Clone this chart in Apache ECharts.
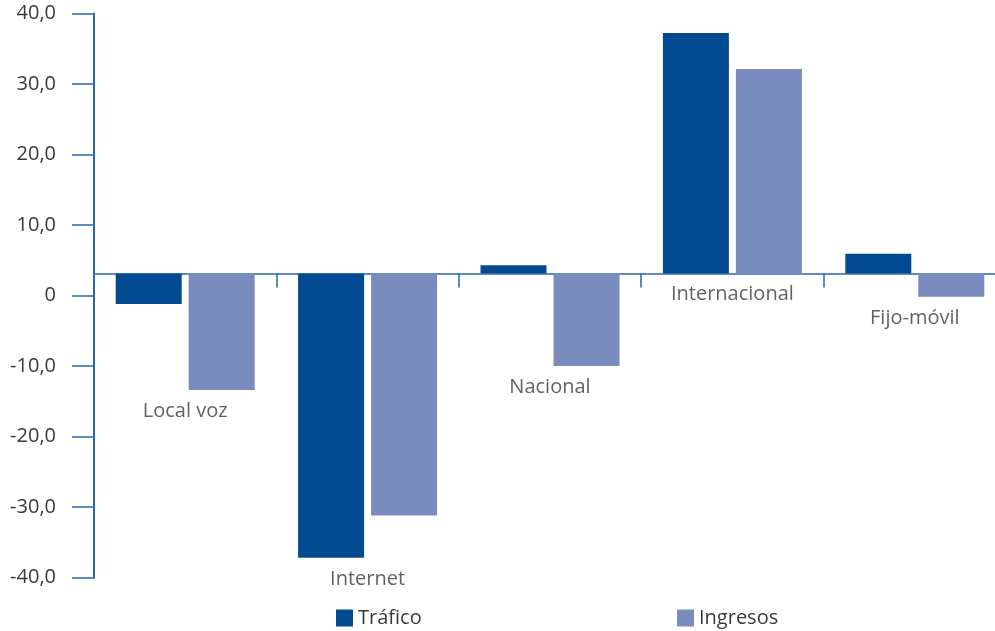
<!DOCTYPE html>
<html>
<head>
<meta charset="utf-8">
<script src="https://cdn.jsdelivr.net/npm/echarts@6/dist/echarts.min.js"></script>
<style>
html,body{margin:0;padding:0;background:#fff;}
#chart{width:995px;height:631px;}
</style>
</head>
<body>
<div id="chart"></div>
<script>
// Data (values measured as bar length from the drawn category axis line)
var categories = ['Local voz', 'Internet', 'Nacional', 'Internacional', 'Fijo-móvil'];
var trafico = [-4.3, -40.3, 1.2, 34.1, 2.8];
var ingresos = [-16.5, -34.3, -13.1, 29.0, -3.3];
var seriesNames = ['Tráfico', 'Ingresos'];
var yTicks = [-40, -30, -20, -10, 0, 10, 20, 30, 40];

var labelAnchor = categories.map(function (c, i) {
  return Math.min(0, trafico[i], ingresos[i]);
});

var axisColor = '#2c66aa';
var textColor = '#3a3a3a';
var fontFamily = '"Open Sans", "Noto Sans", sans-serif';

var chart = echarts.init(document.getElementById('chart'), null, {renderer: 'canvas'});
chart.setOption({
  animation: false,
  backgroundColor: '#ffffff',
  textStyle: {fontFamily: fontFamily},
  grid: {left: 94, width: 912, top: 13.5, bottom: 53.3, containLabel: false, outerBoundsMode: 'none'},
  legend: [
    {
      data: [seriesNames[0]], left: 336, top: 608, padding: 0,
      icon: 'rect', itemWidth: 17, itemHeight: 17, itemGap: 6,
      textStyle: {fontSize: 20, color: textColor, fontFamily: fontFamily, lineHeight: 20}
    },
    {
      data: [seriesNames[1]], left: 677, top: 608, padding: 0,
      icon: 'rect', itemWidth: 17, itemHeight: 17, itemGap: 6,
      textStyle: {fontSize: 20, color: textColor, fontFamily: fontFamily, lineHeight: 20}
    }
  ],
  xAxis: {
    type: 'category',
    data: categories,
    axisLine: {show: true, onZero: true, onZeroAxisIndex: 1, lineStyle: {color: axisColor, width: 1.5}},
    axisTick: {show: true, length: 14, interval: 0, lineStyle: {color: axisColor, width: 1.5}},
    axisLabel: {show: false},
    splitLine: {show: false}
  },
  yAxis: [
    {
      type: 'value',
      min: yTicks[0], max: yTicks[yTicks.length - 1], interval: 10,
      axisLine: {show: true, lineStyle: {color: axisColor, width: 2}},
      axisTick: {show: true, length: 22, lineStyle: {color: axisColor, width: 1.5}},
      splitLine: {show: false},
      axisLabel: {
        margin: 38, fontSize: 20, color: textColor, fontFamily: fontFamily,
        formatter: function (v) { return v === 0 ? '0' : v.toFixed(1).replace('.', ','); }
      }
    },
    {
      type: 'value', show: false,
      min: -43.12, max: 36.88,
      splitLine: {show: false}
    }
  ],
  series: [
    {
      name: seriesNames[0], type: 'bar', yAxisIndex: 1,
      data: trafico, barWidth: 66, barGap: '10.6%',
      itemStyle: {color: '#034a90'}
    },
    {
      name: seriesNames[1], type: 'bar', yAxisIndex: 1,
      data: ingresos, barWidth: 66, barGap: '10.6%',
      itemStyle: {color: '#7a8bbd'}
    },
    {
      name: 'labels', type: 'scatter', yAxisIndex: 1,
      data: labelAnchor, symbolSize: 0, silent: true,
      label: {
        show: true, position: 'bottom', distance: 11,
        formatter: function (p) { return categories[p.dataIndex]; },
        fontSize: 20, color: textColor, fontFamily: fontFamily
      }
    }
  ]
});
</script>
</body>
</html>
